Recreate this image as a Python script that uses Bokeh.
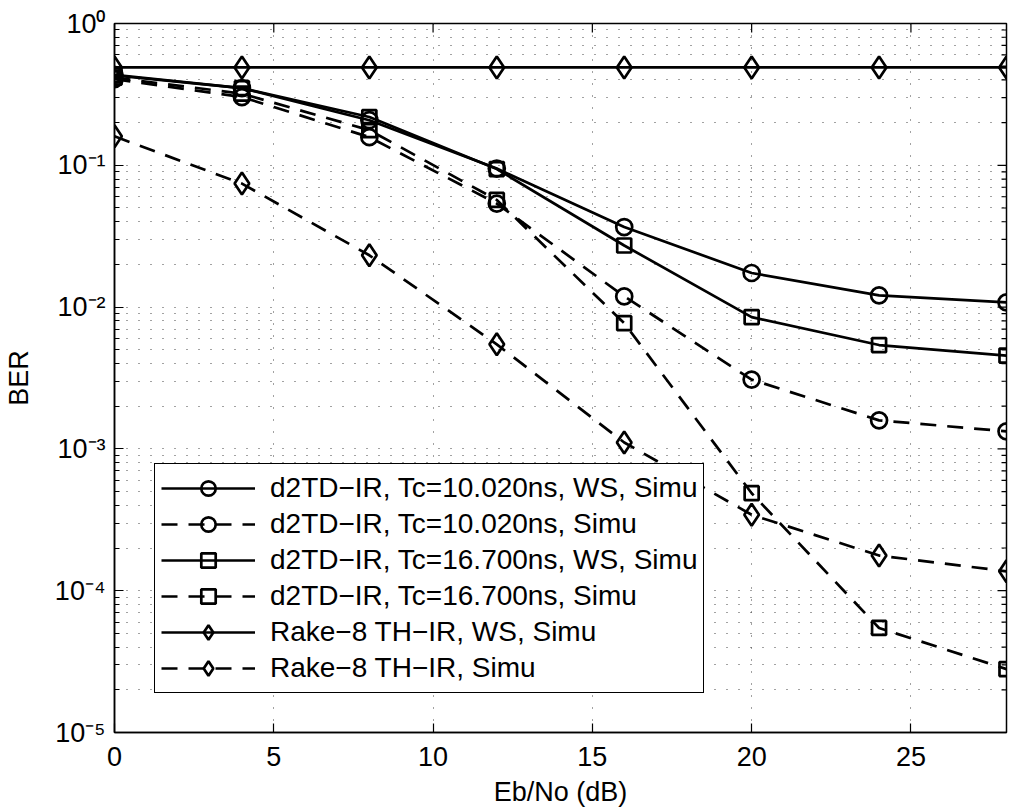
import math
from bokeh.plotting import figure
from bokeh.models import (FixedTicker, CustomJSTickFormatter, Legend, LegendItem, Range1d)
from bokeh.embed import file_html
from bokeh.resources import INLINE

# ---------------- data ----------------
ebno = [0, 4, 8, 12, 16, 20, 24, 28]
ber_tc10_ws = [0.435, 0.35, 0.208, 0.0948, 0.0367, 0.0174, 0.0121, 0.0108]
ber_tc10 = [0.405, 0.303, 0.158, 0.0537, 0.0119, 0.00308, 0.00159, 0.00133]
ber_tc16_ws = [0.43, 0.35, 0.219, 0.094, 0.0272, 0.0085, 0.0054, 0.00455]
ber_tc16 = [0.415, 0.32, 0.177, 0.057, 0.0077, 0.000487, 0.0000546, 0.000028]
ber_rake_ws = [0.49, 0.49, 0.49, 0.49, 0.49, 0.49, 0.49, 0.49]
ber_rake = [0.160, 0.0743, 0.0232, 0.00546, 0.00111, 0.000343, 0.000177, 0.000137]

labels = ["d2TD\u2212IR, Tc=10.020ns, WS, Simu",
          "d2TD\u2212IR, Tc=10.020ns, Simu",
          "d2TD\u2212IR, Tc=16.700ns, WS, Simu",
          "d2TD\u2212IR, Tc=16.700ns, Simu",
          "Rake\u22128 TH\u2212IR, WS, Simu",
          "Rake\u22128 TH\u2212IR, Simu"]
series = [ber_tc10_ws, ber_tc10, ber_tc16_ws, ber_tc16, ber_rake_ws, ber_rake]
markers = ["circle", "circle", "square", "square", "diamond", "diamond"]
dashed = [False, True, False, True, False, True]

x_min, x_max = 0, 28
y_min, y_max = 1e-5, 1e0
x_ticks = [0, 5, 10, 15, 20, 25]
y_ticks = [1e-5, 1e-4, 1e-3, 1e-2, 1e-1, 1e0]
y_minor = [m * d for d in y_ticks[:-1] for m in range(2, 10)]

FONT = "Liberation Sans"
FS = "27px"

p = figure(width=1019, height=810, y_axis_type="log",
           x_range=Range1d(x_min, x_max), y_range=Range1d(y_min, y_max),
           output_backend="svg", toolbar_location=None,
           min_border_left=112, min_border_right=13,
           min_border_top=23, min_border_bottom=78)
p.background_fill_color = "white"
p.border_fill_color = "white"
p.outline_line_color = "black"
p.outline_line_width = 1.5

xt = FixedTicker(ticks=x_ticks)
yt = FixedTicker(ticks=y_ticks, minor_ticks=y_minor)

fmt = CustomJSTickFormatter(code="""
const sup = {"0":"\u2070","1":"\u00b9","2":"\u00b2","3":"\u00b3","4":"\u2074",
             "5":"\u2075","6":"\u2076","7":"\u2077","8":"\u2078","9":"\u2079","-":"\u207b"};
const e = Math.round(Math.log10(tick));
return "10" + String(e).split("").map(c => sup[c]).join("");
""")

def style_axis(ax):
    ax.axis_line_color = "black"
    ax.axis_line_width = 1.5
    ax.major_tick_in = 9
    ax.major_tick_out = 0
    ax.minor_tick_in = 5
    ax.minor_tick_out = 0
    ax.major_tick_line_color = "black"
    ax.minor_tick_line_color = "black"
    ax.major_tick_line_width = 1.2
    ax.minor_tick_line_width = 1.2
    ax.major_label_text_font = FONT
    ax.major_label_text_color = "black"
    ax.major_label_text_font_size = FS
    ax.axis_label_text_font = FONT
    ax.axis_label_text_font_size = FS
    ax.axis_label_text_font_style = "normal"
    ax.axis_label_text_color = "black"

xa = p.xaxis[0]
xa.ticker = xt
style_axis(xa)
xa.minor_tick_in = 0
xa.major_label_standoff = 14
xa.axis_label = "Eb/No (dB)"
xa.axis_label_standoff = 8

ya = p.yaxis[0]
ya.ticker = yt
ya.formatter = fmt
style_axis(ya)
ya.major_label_standoff = 9
ya.axis_label = "BER"
ya.axis_label_standoff = 18

# grids
p.xgrid.ticker = xt
p.ygrid.ticker = yt
for g in (p.xgrid[0], p.ygrid[0]):
    g.grid_line_color = "#444444"
    g.grid_line_dash = "1 11"
    g.grid_line_width = 1
p.ygrid[0].minor_grid_line_color = "#444444"
p.ygrid[0].minor_grid_line_dash = "1 11"
p.ygrid[0].minor_grid_line_width = 1

# inward ticks on the top and right edges of the box (clipped to the frame)
p.scatter(x_ticks, [y_max] * len(x_ticks), marker="dash", angle=math.pi / 2,
          size=18, line_color="black", line_width=1.2)
p.scatter([x_max] * len(y_ticks), y_ticks, marker="dash",
          size=18, line_color="black", line_width=1.2)
p.scatter([x_max] * len(y_minor), y_minor, marker="dash",
          size=10, line_color="black", line_width=1.2)

msize = {"circle": 16, "square": 14, "diamond": 22}
items = []
for lab, ys, mk, ds in zip(labels, series, markers, dashed):
    dash = "16 11" if ds else "solid"
    r1 = p.line(ebno, ys, line_color="black", line_width=2.7, line_dash=dash)
    r2 = p.scatter(ebno, ys, marker=mk, size=msize[mk], fill_color=None,
                   line_color="black", line_width=2.7)
    items.append(LegendItem(label=lab, renderers=[r1, r2]))

leg = Legend(items=items, location=(40, 39))
leg.label_text_font = FONT
leg.label_text_font_size = "28px"
leg.label_text_color = "black"
leg.glyph_width = 94
leg.glyph_height = 36
leg.label_height = 36
leg.spacing = 0
leg.padding = 6
leg.margin = 0
leg.label_standoff = 15
leg.border_line_color = "black"
leg.border_line_alpha = 1
leg.border_line_width = 1.2
leg.background_fill_color = "white"
leg.background_fill_alpha = 1
p.add_layout(leg, "center")

open("out.html", "w").write(file_html(p, INLINE))
